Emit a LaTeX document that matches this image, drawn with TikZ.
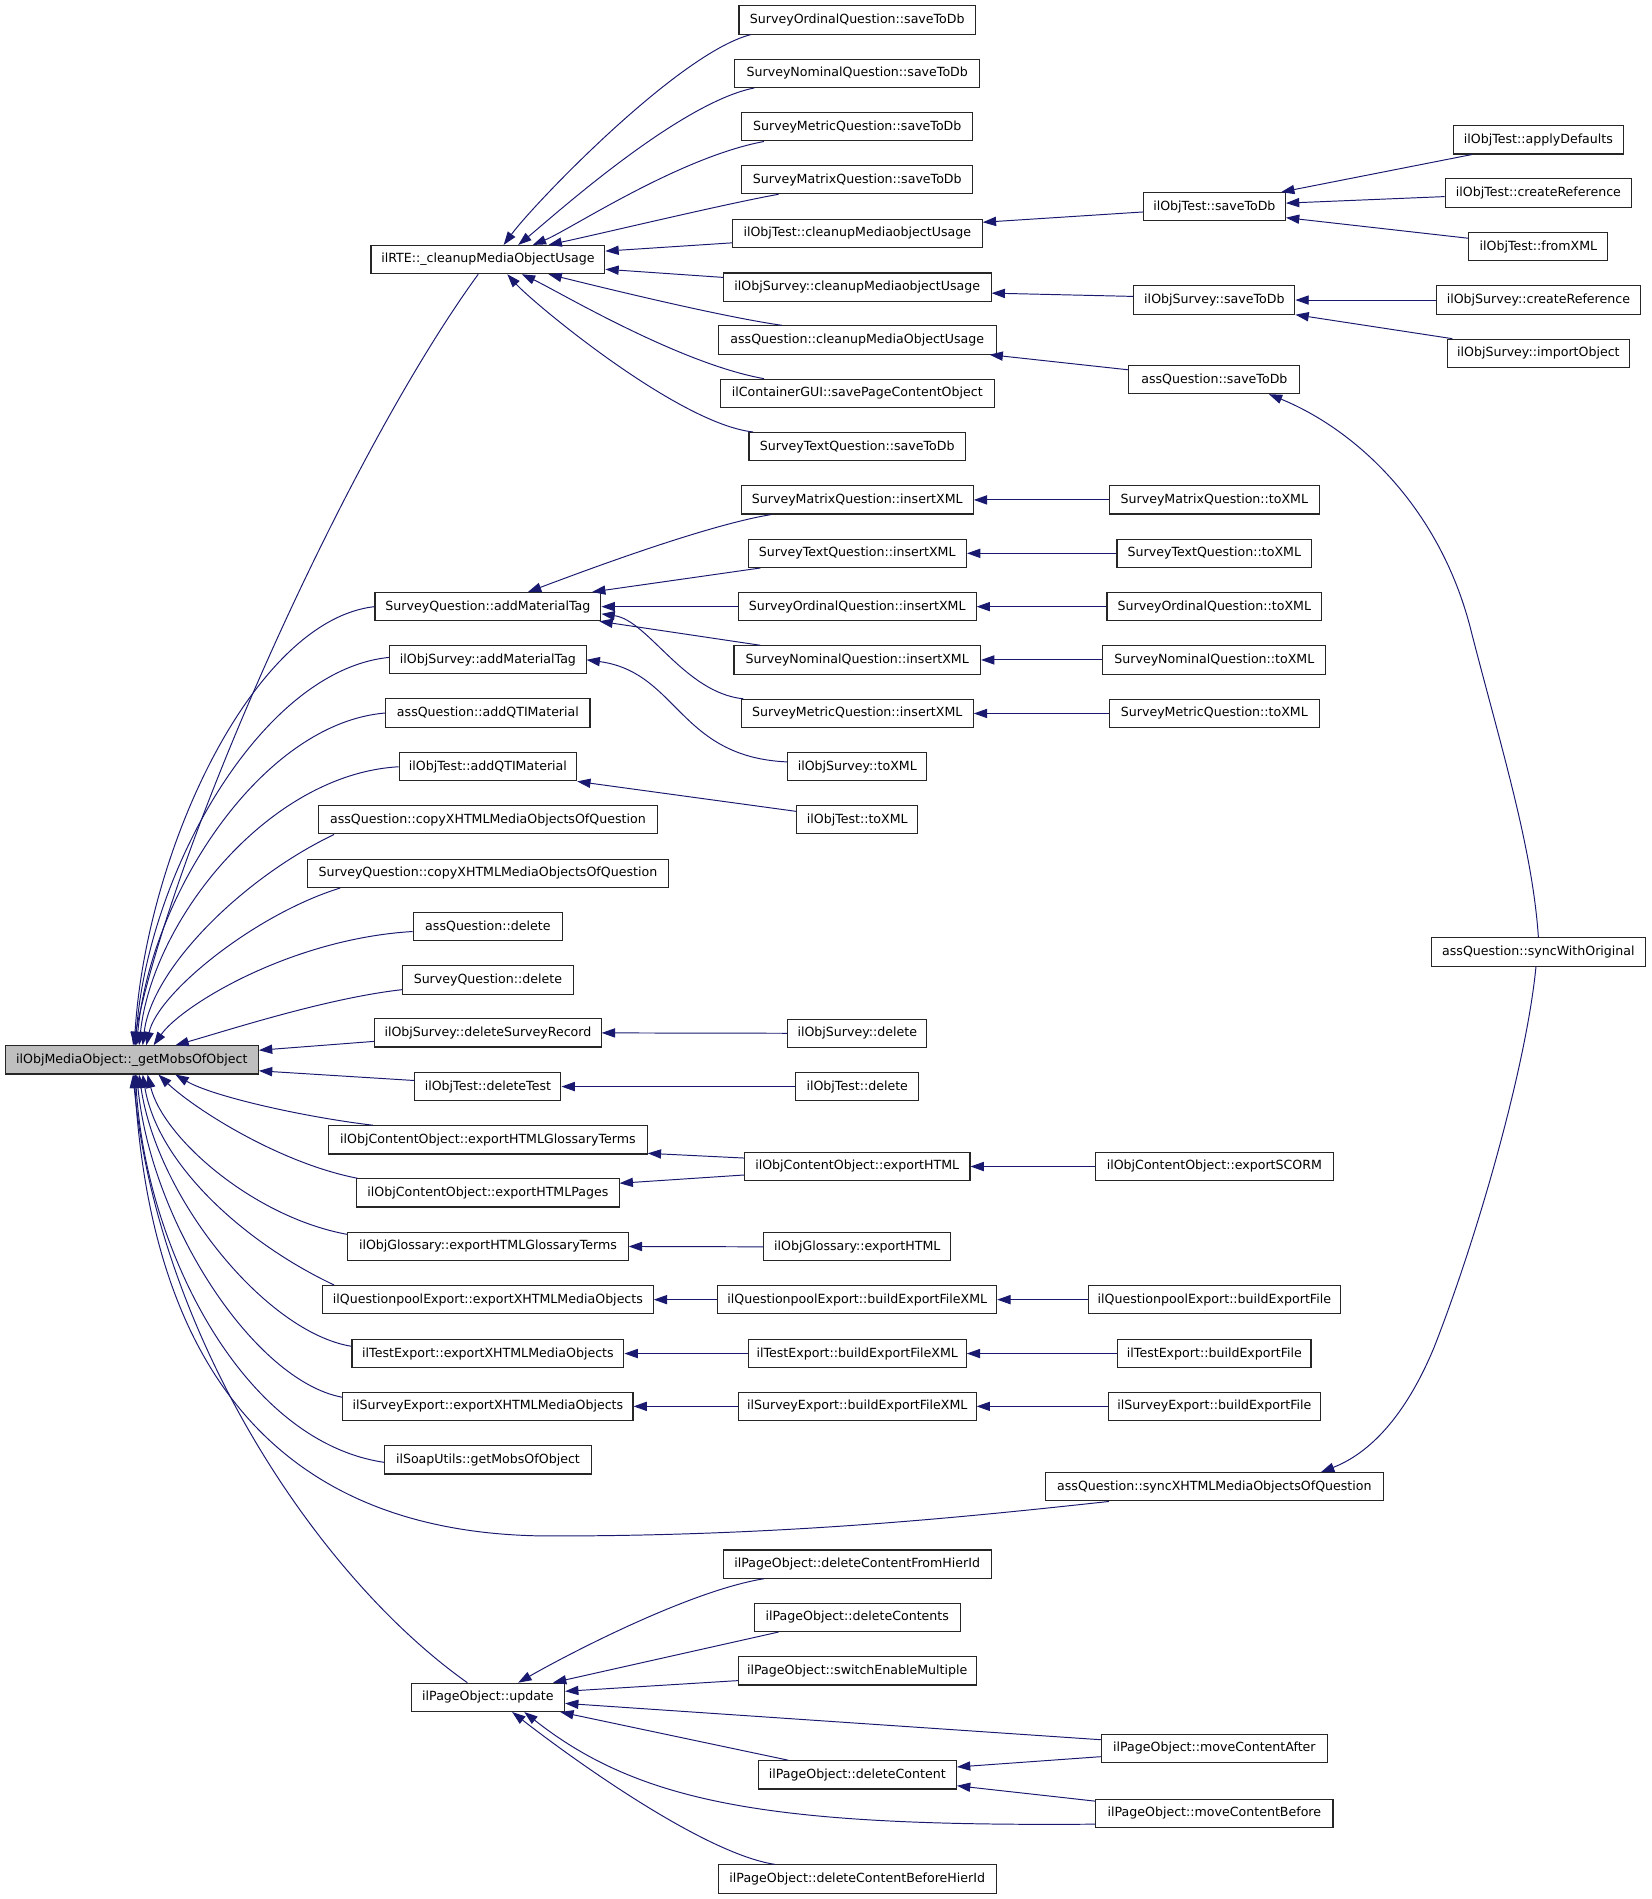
\documentclass[tikz,border=0pt]{standalone}
\usepackage{fontspec}
\setmainfont{DejaVu Sans}
\usetikzlibrary{arrows.meta}
\definecolor{edgeblue}{HTML}{191970}
\tikzset{
  fn/.style={draw=black!85, line width=0.9pt, fill=white, minimum height=23.3pt,
    inner xsep=2pt, inner ysep=0pt, font=\fontsize{10.4}{12}\selectfont, anchor=center},
  rootnode/.style={fn, fill=black!25},
  cedge/.style={draw=edgeblue, line width=0.8pt, {Triangle[length=11pt,width=7.6pt]}-}
}
\begin{document}
\begin{tikzpicture}[x=1pt,y=-1pt]
\fill[white] (0,0) rectangle (1363,1567.7);
\useasboundingbox (0,0) rectangle (1363,1567.7);

% root
\node[rootnode, minimum width=209pt] (root) at (108.8,875) {ilObjMediaObject::\_getMobsOfObject};

% column 1
\node[fn, minimum width=193pt] (rte) at (402.8,214.3) {ilRTE::\_cleanupMediaObjectUsage};
\node[fn, minimum width=186.5pt] (amt) at (402.8,500.8) {SurveyQuestion::addMaterialTag};
\node[fn, minimum width=162pt] (oam) at (402.8,544.7) {ilObjSurvey::addMaterialTag};
\node[fn, minimum width=168.5pt] (aqm) at (402.8,588.6) {assQuestion::addQTIMaterial};
\node[fn, minimum width=146.5pt] (oaq) at (402.8,633) {ilObjTest::addQTIMaterial};
\node[fn, minimum width=279.5pt] (acx) at (402.8,676.8) {assQuestion::copyXHTMLMediaObjectsOfQuestion};
\node[fn, minimum width=298.5pt] (sqx) at (402.8,721) {SurveyQuestion::copyXHTMLMediaObjectsOfQuestion};
\node[fn, minimum width=123.5pt] (asd) at (402.8,765) {assQuestion::delete};
\node[fn, minimum width=141pt] (sqd) at (402.8,809) {SurveyQuestion::delete};
\node[fn, minimum width=187pt] (dsr) at (402.8,852.7) {ilObjSurvey::deleteSurveyRecord};
\node[fn, minimum width=120.5pt] (dt) at (402.8,897) {ilObjTest::deleteTest};
\node[fn, minimum width=263pt] (egt) at (402.8,941) {ilObjContentObject::exportHTMLGlossaryTerms};
\node[fn, minimum width=216.5pt] (ehp) at (402.8,984.8) {ilObjContentObject::exportHTMLPages};
\node[fn, minimum width=231.5pt] (oge) at (402.8,1029) {ilObjGlossary::exportHTMLGlossaryTerms};
\node[fn, minimum width=273pt] (qpe) at (402.8,1072.9) {ilQuestionpoolExport::exportXHTMLMediaObjects};
\node[fn, minimum width=224.5pt] (tee) at (402.8,1117.4) {ilTestExport::exportXHTMLMediaObjects};
\node[fn, minimum width=239.5pt] (sve) at (402.8,1161) {ilSurveyExport::exportXHTMLMediaObjects};
\node[fn, minimum width=170.5pt] (su) at (402.8,1205.2) {ilSoapUtils::getMobsOfObject};
\node[fn, minimum width=126.5pt] (upd) at (402.8,1401.2) {ilPageObject::update};

% column 2
\node[fn, minimum width=195.3pt] (soqs) at (707.7,16.5) {SurveyOrdinalQuestion::saveToDb};
\node[fn, minimum width=202.5pt] (snqs) at (707.7,60.5) {SurveyNominalQuestion::saveToDb};
\node[fn, minimum width=190.5pt] (smes) at (707.7,104.7) {SurveyMetricQuestion::saveToDb};
\node[fn, minimum width=190.5pt] (smas) at (707.7,148.3) {SurveyMatrixQuestion::saveToDb};
\node[fn, minimum width=206.3pt] (otc) at (707.7,192.5) {ilObjTest::cleanupMediaobjectUsage};
\node[fn, minimum width=220.9pt] (osc) at (707.7,237) {ilObjSurvey::cleanupMediaobjectUsage};
\node[fn, minimum width=229.5pt] (aqc) at (707.7,280.7) {assQuestion::cleanupMediaObjectUsage};
\node[fn, minimum width=226.5pt] (cgui) at (707.7,324.7) {ilContainerGUI::savePageContentObject};
\node[fn, minimum width=178.8pt] (stqs) at (707.7,368.7) {SurveyTextQuestion::saveToDb};
\node[fn, minimum width=191.5pt] (smai) at (707.7,412.7) {SurveyMatrixQuestion::insertXML};
\node[fn, minimum width=180.3pt] (stqi) at (707.7,456.8) {SurveyTextQuestion::insertXML};
\node[fn, minimum width=196.2pt] (soqi) at (707.7,500.8) {SurveyOrdinalQuestion::insertXML};
\node[fn, minimum width=203.5pt] (snqi) at (707.7,544.8) {SurveyNominalQuestion::insertXML};
\node[fn, minimum width=191.5pt] (smei) at (707.7,589) {SurveyMetricQuestion::insertXML};
\node[fn, minimum width=114.7pt] (osx) at (707.7,633) {ilObjSurvey::toXML};
\node[fn, minimum width=100.1pt] (otx) at (707.7,676.8) {ilObjTest::toXML};
\node[fn, minimum width=115pt] (osd) at (707.7,853) {ilObjSurvey::delete};
\node[fn, minimum width=101.5pt] (otd) at (707.7,897) {ilObjTest::delete};
\node[fn, minimum width=186.1pt] (eh) at (707.7,963) {ilObjContentObject::exportHTML};
\node[fn, minimum width=154.1pt] (ogh) at (707.7,1029.3) {ilObjGlossary::exportHTML};
\node[fn, minimum width=230.1pt] (qpb) at (707.7,1072.9) {ilQuestionpoolExport::buildExportFileXML};
\node[fn, minimum width=179.9pt] (teb) at (707.7,1117.4) {ilTestExport::buildExportFileXML};
\node[fn, minimum width=196.2pt] (svb) at (707.7,1161) {ilSurveyExport::buildExportFileXML};
\node[fn, minimum width=220.9pt] (dcfh) at (707.7,1291.2) {ilPageObject::deleteContentFromHierId};
\node[fn, minimum width=170.1pt] (dcs) at (707.7,1335.2) {ilPageObject::deleteContents};
\node[fn, minimum width=196.2pt] (sem) at (707.7,1379.4) {ilPageObject::switchEnableMultiple};
\node[fn, minimum width=163.7pt] (dc) at (707.7,1465.2) {ilPageObject::deleteContent};
\node[fn, minimum width=229.5pt] (dcbh) at (707.7,1551.2) {ilPageObject::deleteContentBeforeHierId};

% column 3
\node[fn, minimum width=117.3pt] (ots) at (1002.5,170.7) {ilObjTest::saveToDb};
\node[fn, minimum width=132.9pt] (oss) at (1002.5,247.7) {ilObjSurvey::saveToDb};
\node[fn, minimum width=141.1pt] (aqs) at (1002.5,313.3) {assQuestion::saveToDb};
\node[fn, minimum width=173pt] (smax) at (1002.5,412.7) {SurveyMatrixQuestion::toXML};
\node[fn, minimum width=160.8pt] (stqx) at (1002.5,456.8) {SurveyTextQuestion::toXML};
\node[fn, minimum width=177.3pt] (soqx) at (1002.5,500.8) {SurveyOrdinalQuestion::toXML};
\node[fn, minimum width=184pt] (snqx) at (1002.5,544.8) {SurveyNominalQuestion::toXML};
\node[fn, minimum width=173pt] (smex) at (1002.5,589) {SurveyMetricQuestion::toXML};
\node[fn, minimum width=196.2pt] (scorm) at (1002.5,963) {ilObjContentObject::exportSCORM};
\node[fn, minimum width=208.1pt] (qpf) at (1002.5,1072.9) {ilQuestionpoolExport::buildExportFile};
\node[fn, minimum width=159.6pt] (tef) at (1002.5,1117.4) {ilTestExport::buildExportFile};
\node[fn, minimum width=175pt] (svf) at (1002.5,1161) {ilSurveyExport::buildExportFile};
\node[fn, minimum width=279.4pt] (sx) at (1002.5,1227.4) {assQuestion::syncXHTMLMediaObjectsOfQuestion};
\node[fn, minimum width=186.7pt] (mca) at (1002.5,1443.2) {ilPageObject::moveContentAfter};
\node[fn, minimum width=195.9pt] (mcb) at (1002.5,1496.9) {ilPageObject::moveContentBefore};

% column 4
\node[fn, minimum width=140.2pt] (oad) at (1270,115.5) {ilObjTest::applyDefaults};
\node[fn, minimum width=154.1pt] (otcr) at (1270,159.3) {ilObjTest::createReference};
\node[fn, minimum width=114.7pt] (ofx) at (1270,203.7) {ilObjTest::fromXML};
\node[fn, minimum width=168.6pt] (oscr) at (1270,247.7) {ilObjSurvey::createReference};
\node[fn, minimum width=150.7pt] (oimp) at (1270,291.7) {ilObjSurvey::importObject};
\node[fn, minimum width=176.1pt] (swo) at (1270,785.9) {assQuestion::syncWithOriginal};

% ---- edges into root (top side)
\draw[cedge] ([xshift=1pt]root.north) .. controls (145,690) and (290,370) .. ([xshift=-8pt]rte.south);
\draw[cedge] ([xshift=2pt]root.north) .. controls (121,700) and (210,512) .. (amt.west);
\draw[cedge] ([xshift=3pt]root.north) .. controls (122,720) and (216,553) .. ([yshift=2pt]oam.west);
\draw[cedge] ([xshift=4pt]root.north) .. controls (124,739) and (216,597) .. (aqm.west);
\draw[cedge] ([xshift=6pt]root.north) .. controls (126,759) and (222,639) .. (oaq.west);
\draw[cedge] ([xshift=9pt]root.north) .. controls (125,800) and (200,725) .. ([xshift=-127pt]acx.south);
\draw[cedge] ([xshift=12pt]root.north) .. controls (130,820) and (210,755) .. ([xshift=-122pt]sqx.south);
\draw[cedge] ([xshift=18pt]root.north) .. controls (150,830) and (240,775) .. ([yshift=-4pt]asd.west);
\draw[cedge] ([xshift=36pt]root.north) .. controls (190,850) and (270,824) .. ([yshift=-8pt]sqd.west);
\draw[cedge] ([yshift=8pt]root.east) -- ([yshift=-7pt]dsr.west);
\draw[cedge] ([yshift=-9pt]root.east) -- ([yshift=5pt]dt.west);
% ---- edges into root (bottom side)
\draw[cedge] ([xshift=36pt]root.south) .. controls (175,905) and (250,922) .. ([xshift=-95pt]egt.north);
\draw[cedge] ([xshift=22pt]root.south) .. controls (160,915) and (230,960) .. ([xshift=1pt]ehp.north west);
\draw[cedge] ([xshift=13pt]root.south) .. controls (135,940) and (210,1005) .. ([yshift=10pt]oge.west);
\draw[cedge] ([xshift=9pt]root.south) .. controls (130,960) and (200,1025) .. ([xshift=-127pt]qpe.north);
\draw[cedge] ([xshift=6pt]root.south) .. controls (130,990) and (220,1100) .. ([yshift=6pt]tee.west);
\draw[cedge] ([xshift=4pt]root.south) .. controls (125,1010) and (210,1140) .. ([yshift=7.5pt]sve.west);
\draw[cedge] ([xshift=3pt]root.south) .. controls (120,1030) and (200,1190) .. ([yshift=-2pt]su.west);
\draw[cedge] ([xshift=2pt]root.south) .. controls (125,1130) and (230,1268) .. (455,1268)
  .. controls (650,1268) and (800,1252) .. ([xshift=-87pt]sx.south);
\draw[cedge] ([xshift=1pt]root.south) .. controls (130,1100) and (260,1300) .. ([xshift=-17pt]upd.north);

% ---- edges into ilRTE
\draw[cedge] ([xshift=13pt]rte.north) .. controls (441,168) and (560,44) .. ([xshift=-88pt]soqs.south);
\draw[cedge] ([xshift=25pt]rte.north) .. controls (455,180) and (560,85) .. ([xshift=-85pt]snqs.south);
\draw[cedge] ([xshift=37pt]rte.north) .. controls (470,190) and (560,130) .. ([xshift=-77pt]smes.south);
\draw[cedge] ([xshift=50pt]rte.north) .. controls (500,192) and (600,168) .. ([xshift=-65pt]smas.south);
\draw[cedge] ([yshift=7pt]rte.east) -- ([yshift=-8pt]otc.west);
\draw[cedge] ([yshift=-8pt]rte.east) -- ([yshift=8pt]osc.west);
\draw[cedge] ([xshift=50pt]rte.south) .. controls (520,243) and (600,262) .. ([xshift=-62pt]aqc.north);
\draw[cedge] ([xshift=28pt]rte.south) .. controls (460,240) and (560,300) .. ([xshift=-77pt]cgui.north);
\draw[cedge] ([xshift=16pt]rte.south) .. controls (440,250) and (560,350) .. ([xshift=-86pt]stqs.north);

% ---- saveToDb chains
\draw[cedge] ([yshift=9pt]otc.east) -- ([yshift=-4.3pt]ots.west);
\draw[cedge] ([yshift=-5pt]osc.east) -- ([yshift=3pt]oss.west);
\draw[cedge] ([xshift=-6pt]aqc.south east) -- ([yshift=8pt]aqs.west);
\draw[cedge] ([xshift=-4pt]ots.north east) -- ([xshift=-55pt]oad.south);
\draw[cedge] ([yshift=3pt]ots.east) -- ([yshift=-3pt]otcr.west);
\draw[cedge] ([yshift=-9pt]ots.east) -- ([yshift=7pt]ofx.west);
\draw[cedge] (oss.east) -- (oscr.west);
\draw[cedge] (oss.south east) -- ([xshift=-71pt]oimp.north);
\draw[cedge] ([xshift=45pt]aqs.south) .. controls (1120,355) and (1190,420) .. (1215,523)
  .. controls (1240,620) and (1265,700) .. (swo.north);
\draw[cedge] ([xshift=88pt]sx.north) .. controls (1130,1200) and (1160,1170) .. (1184,1112)
  .. controls (1220,1020) and (1260,880) .. ([xshift=-2pt]swo.south);

% ---- addMaterialTag / insertXML
\draw[cedge] ([xshift=33pt]amt.north) .. controls (470,476) and (580,434) .. ([xshift=-71pt]smai.south);
\draw[cedge] ([xshift=86pt]amt.north) -- ([xshift=-80pt]stqi.south);
\draw[cedge] (amt.east) -- (soqi.west);
\draw[cedge] ([xshift=92pt]amt.south) -- ([xshift=-80pt]snqi.north);
\draw[cedge] ([yshift=-6pt]amt.east) .. controls (535,512) and (565,572) .. ([xshift=-94pt]smei.north);
\draw[cedge] (smai.east) -- (smax.west);
\draw[cedge] (stqi.east) -- (stqx.west);
\draw[cedge] (soqi.east) -- (soqx.west);
\draw[cedge] (snqi.east) -- (snqx.west);
\draw[cedge] (smei.east) -- (smex.west);
\draw[cedge] (oam.east) .. controls (560,555) and (560,625) .. ([yshift=4pt]osx.west);
\draw[cedge] (oaq.south east) -- ([yshift=7pt]otx.west);

% ---- delete
\draw[cedge] (dsr.east) -- (osd.west);
\draw[cedge] (dt.east) -- (otd.west);

% ---- export
\draw[cedge] ([yshift=1pt]egt.south east) -- ([yshift=7pt]eh.west);
\draw[cedge] ([yshift=8pt]ehp.east) -- ([yshift=-7pt]eh.west);
\draw[cedge] (eh.east) -- (scorm.west);
\draw[cedge] (oge.east) -- (ogh.west);
\draw[cedge] (qpe.east) -- (qpb.west);
\draw[cedge] (qpb.east) -- (qpf.west);
\draw[cedge] (tee.east) -- (teb.west);
\draw[cedge] (teb.east) -- (tef.west);
\draw[cedge] (sve.east) -- (svb.west);
\draw[cedge] (svb.east) -- (svf.west);

% ---- page object
\draw[cedge] ([xshift=25pt]upd.north) .. controls (470,1365) and (570,1313) .. ([xshift=-77pt]dcfh.south);
\draw[cedge] ([xshift=-10pt]upd.north east) -- ([xshift=-65pt]dcs.south);
\draw[cedge] ([yshift=5pt]upd.east) -- ([yshift=-8pt]sem.west);
\draw[cedge] ([yshift=-5pt]upd.east) -- ([yshift=7pt]mca.west);
\draw[cedge] ([xshift=-4pt]upd.south east) -- ([xshift=-57pt]dc.north);
\draw[cedge] ([xshift=30pt]upd.south) .. controls (530,1490) and (640,1508) .. ([yshift=-9pt]mcb.west);
\draw[cedge] ([xshift=20pt]upd.south) .. controls (470,1450) and (580,1530) .. ([xshift=-68pt]dcbh.north);
\draw[cedge] ([yshift=6.5pt]dc.east) -- ([yshift=-7pt]mca.west);
\draw[cedge] ([yshift=-9pt]dc.east) -- ([yshift=10pt]mcb.west);
\end{tikzpicture}
\end{document}
